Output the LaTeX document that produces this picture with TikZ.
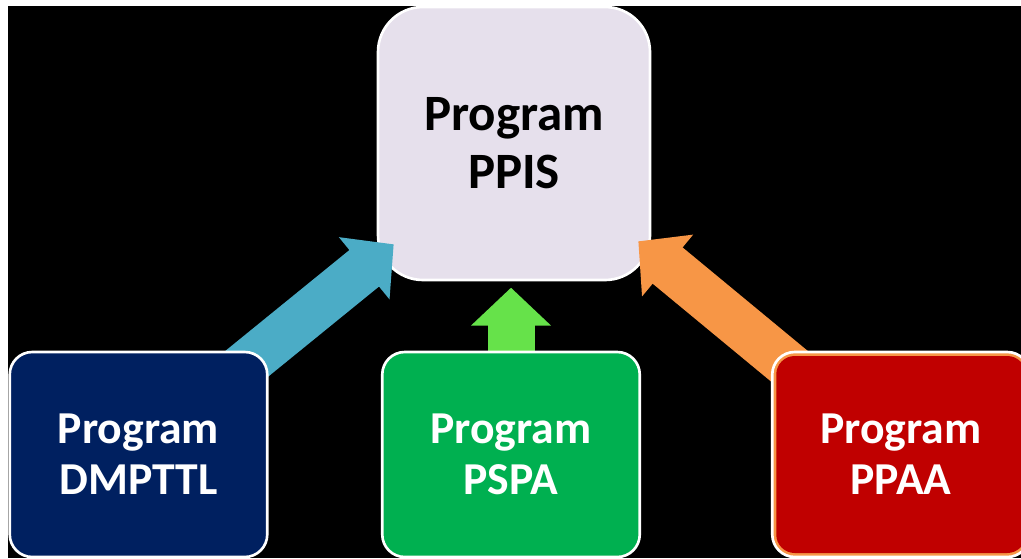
\documentclass[tikz,border=0pt]{standalone}
\usepackage{fontspec}
\setmainfont{Carlito}
\usetikzlibrary{arrows.meta,calc,positioning}

\definecolor{lavbox}{HTML}{E6E0EC}
\definecolor{navybox}{HTML}{002060}
\definecolor{greenbox}{HTML}{00B050}
\definecolor{redbox}{HTML}{C00000}
\definecolor{bluearr}{HTML}{4BACC6}
\definecolor{greenarr}{HTML}{66E24A}
\definecolor{orangearr}{HTML}{F79646}

\pgfdeclarelayer{back}
\pgfdeclarelayer{mid}
\pgfsetlayers{back,mid,main}

\begin{document}
\begin{tikzpicture}[
    prog/.style={draw=white,line width=1.5pt,align=center,inner sep=0pt,
        minimum width=5.15cm,minimum height=4.1cm,rounded corners=0.45cm,
        text=white,font=\fontsize{26}{29}\selectfont\bfseries},
    bigarrow/.style={line width=0.94cm,-{Triangle[length=0.76cm,width=1.56cm]}}]

    \useasboundingbox (0,0) rectangle (20.42,11.16);

    % Background and the target box
    \begin{pgfonlayer}{back}
        \fill[black] (0.16,0) rectangle (20.42,11.04);
        \node[prog,fill=lavbox,text=black,minimum width=5.44cm,minimum height=5.46cm,
            rounded corners=0.9cm,font=\fontsize{29}{33}\selectfont\bfseries]
            (ppis) at (10.28,8.29) {Program\\PPIS};
    \end{pgfonlayer}

    % Source programs
    \node[prog,fill=navybox] (dmpttl) at (2.77,2.07) {Program\\DMPTTL};
    \node[prog,fill=greenbox] (pspa) at (10.22,2.07) {Program\\PSPA};
    \node[prog,fill=orangearr,path picture={
        \fill[redbox,rounded corners=0.37cm]
            ($(path picture bounding box.south west)+(0.08,0.08)$) rectangle
            ($(path picture bounding box.north east)+(-0.08,-0.08)$);}]
        (ppaa) at (18.02,2.07) {Program\\PPAA};

    % Arrows into PPIS
    \begin{pgfonlayer}{mid}
        \draw[bigarrow,bluearr] ($(dmpttl.north east)+(-1.0,-0.72)$) -- ($(ppis.south west)+(0.34,0.74)$);
        \draw[bigarrow,greenarr] ($(pspa.north)+(0,-0.3)$) -- ($(pspa.north)+(0,1.26)$);
        \draw[bigarrow,orangearr] ($(ppaa.north west)+(0.84,-0.70)$) -- ($(ppis.south east)+(-0.26,0.80)$);
    \end{pgfonlayer}

\end{tikzpicture}
\end{document}
